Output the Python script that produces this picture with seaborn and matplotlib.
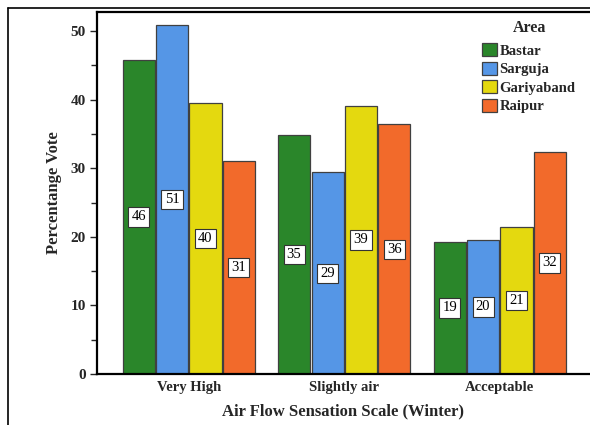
import matplotlib
matplotlib.use("Agg")
import matplotlib.pyplot as plt
from matplotlib.lines import Line2D
from matplotlib.ticker import MultipleLocator
import seaborn as sns
import pandas as pd

categories = ["Very High", "Slightly air", "Acceptable"]
areas = ["Bastar", "Sarguja", "Gariyaband", "Raipur"]
bastar = [45.8, 34.8, 19.3]
sarguja = [50.9, 29.4, 19.6]
gariyaband = [39.5, 39.1, 21.4]
raipur = [31.1, 36.4, 32.4]
colors = ["#2a862a", "#5596e6", "#e4d90f", "#f26a2b"]

rows = []
for area, vals in zip(areas, [bastar, sarguja, gariyaband, raipur]):
    for c, v in zip(categories, vals):
        rows.append({"Scale": c, "Area": area, "Vote": v})
df = pd.DataFrame(rows)

sns.set_style("white")
plt.rcParams["font.family"] = ["Liberation Serif", "DejaVu Serif"]

fig = plt.figure(figsize=(5.9, 4.25), dpi=100)
ax = fig.add_axes([97/590, 51/425, 1 - 97/590, (374-12)/425])

sns.barplot(data=df, x="Scale", y="Vote", hue="Area", order=categories,
            hue_order=areas, palette=colors, width=0.86, gap=0.04,
            edgecolor="#404040", linewidth=0.9, saturation=1, ax=ax, legend=False)

for cont, vals in zip(ax.containers, [bastar, sarguja, gariyaband, raipur]):
    ax.bar_label(cont, labels=[f"{round(v)}" for v in vals], label_type="center",
                 fontsize=10.5, color="black",
                 bbox=dict(boxstyle="square,pad=0.22", fc="white", ec="#333333", lw=0.8))

ax.set_ylim(0, 52.8)
ax.set_xlim(-0.59, 2.58)
ax.yaxis.set_major_locator(MultipleLocator(10))
ax.yaxis.set_minor_locator(MultipleLocator(5))
ax.tick_params(axis="y", which="major", length=5, width=1, direction="out", left=True,
               labelsize=11, pad=3)
ax.tick_params(axis="y", which="minor", length=4, width=1, direction="out", left=True)
ax.tick_params(axis="x", length=0, labelsize=10.5, pad=5)
for lbl in ax.get_xticklabels() + ax.get_yticklabels():
    lbl.set_fontweight("bold")

ax.set_ylabel("Percentange Vote", fontsize=12, fontweight="bold", labelpad=6)
ax.set_xlabel("Air Flow Sensation Scale (Winter)", fontsize=12, fontweight="bold", labelpad=7)

for s in ["left", "bottom", "top"]:
    ax.spines[s].set_linewidth(1.6)
    ax.spines[s].set_color("black")
ax.spines["right"].set_visible(False)

handles = [plt.Rectangle((0, 0), 1, 1, fc=c, ec="#404040", lw=0.9) for c in colors]
leg = ax.legend(handles, areas, frameon=False, loc="upper left",
                bbox_to_anchor=((482 - 97) / (590 - 97), (374 - 43) / (374 - 12)),
                borderaxespad=0, borderpad=0,
                handlelength=1.0, handleheight=1.0,
                handletextpad=0.2, labelspacing=0.28,
                prop={"weight": "bold", "size": 10.5})
fig.text(530/590, 1 - 28/425, "Area", ha="center", va="center",
         fontsize=11.5, fontweight="bold")

fig.add_artist(Line2D([8/590, 8/590], [0, 1 - 8/425], color="black", lw=1.2))
fig.add_artist(Line2D([8/590, 1], [1 - 8/425, 1 - 8/425], color="black", lw=1.2))

fig.savefig("out.png", dpi=100)
